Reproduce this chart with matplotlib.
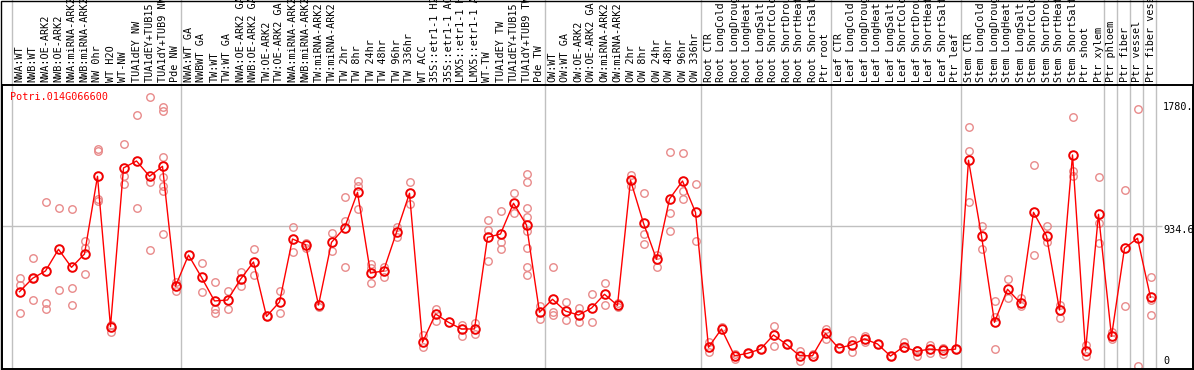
import matplotlib
matplotlib.use("Agg")
import matplotlib.pyplot as plt
import matplotlib.transforms as mtransforms
from matplotlib.patches import Rectangle

# sample labels, in plotting order
LABELS = [
    'NWA:WT', 'NWB:WT', 'NWA:OE-ARK2', 'NWB:OE-ARK2', 'NWA:miRNA-ARK2', 'NWB:miRNA-ARK2',
    'NW 0hr', 'WT H2O', 'WT-NW', 'TUA1dEY NW', 'TUA1dEY+TUB15', 'TUA1dY+TUB9 NW', 'Pde NW',
    'NWA:WT GA', 'NWBWT GA', 'TW:WT', 'TW:WT GA', 'NWA:OE-ARK2 GA', 'NWB:OE-ARK2 GA',
    'TW:OE-ARK2', 'TW:OE-ARK2 GA', 'NWA:miRNA-ARK2', 'NWB:miRNA-ARK2', 'TW:miRNA-ARK2',
    'TW:miRNA-ARK2', 'TW 2hr', 'TW 8hr', 'TW 24hr', 'TW 48hr', 'TW 96hr', 'TW 336hr',
    'WT ACC', '35S::etr1-1 H2O', '35S::etr1-1 ACC', 'LMX5::etr1-1 H2O', 'LMX5::etr1-1 ACC',
    'WT-TW', 'TUA1dEY TW', 'TUA1dEY+TUB15', 'TUA1dY+TUB9 TW', 'Pde TW',
    'OW:WT', 'OW:WT GA', 'OW:OE-ARK2', 'OW:OE-ARK2 GA', 'OW:miRNA-ARK2', 'OW:miRNA-ARK2',
    'OW 2hr', 'OW 8hr', 'OW 24hr', 'OW 48hr', 'OW 96hr', 'OW 336hr',
    'Root CTR', 'Root LongCold', 'Root LongDrought', 'Root LongHeat', 'Root LongSalt',
    'Root ShortCold', 'Root ShortDrought', 'Root ShortHeat', 'Root ShortSalt', 'Ptr root',
    'Leaf CTR', 'Leaf LongCold', 'Leaf LongDrought', 'Leaf LongHeat', 'Leaf LongSalt',
    'Leaf ShortCold', 'Leaf ShortDrought', 'Leaf ShortHeat', 'Leaf ShortSalt', 'Ptr leaf',
    'Stem CTR', 'Stem LongCold', 'Stem LongDrought', 'Stem LongHeat', 'Stem LongSalt',
    'Stem ShortCold', 'Stem ShortDrought', 'Stem ShortHeat', 'Stem ShortSalt', 'Ptr shoot',
    'Ptr xylem', 'Ptr phloem', 'Ptr fiber', 'Ptr vessel', 'Ptr fiber vessel',
]

# mean expression per sample
MEANS = [
    504, 592, 641, 784, 665, 753, 1266, 273, 1321, 1367, 1266, 1332, 540,
    746, 599, 443, 449, 586, 700, 341, 436, 852, 815, 416, 830, 925, 1160, 627,
    641, 896, 1154, 170, 357, 302, 258, 258, 863, 885, 1088, 944, 368,
    454, 376, 350, 396, 487, 414, 1240, 956, 718, 1116, 1235, 1028,
    137, 258, 81, 97, 125, 218, 156, 81, 81, 229,
    132, 152, 192, 159, 79, 141, 110, 125, 117, 125,
    1372, 872, 302, 520, 429, 1028, 872, 383, 1407, 112, 1015,
    209, 791, 857, 467,
]

# replicate values per sample
REPS = [
    [592, 548, 363], [725, 449, 592], [1094, 427, 390], [1055, 515], [1050, 526, 414],
    [841, 791, 619], [1446, 1435, 1116, 1100], [283, 240], [1479, 1266, 1215], [1671, 1057],
    [1788, 1231, 777], [1722, 1697, 1391, 1259, 1204, 1167, 885], [570, 507],
    [], [694, 502], [568, 390, 363], [509, 390], [634, 540], [784, 614], [341],
    [509, 363], [931, 764], [825, 791], [406], [892, 775], [1127, 971, 665],
    [1237, 1204, 1050], [687, 660, 559], [665, 599], [931, 867], [1226, 1081],
    [220, 137], [390, 313], [], [284, 213], [295, 225], [977, 911, 705],
    [1037, 830, 784], [1156, 1022], [1281, 1226, 1057, 997, 903, 793, 667, 614], [412, 324],
    [665, 368, 350], [438, 317], [394, 302], [487, 302], [559, 414], [430, 400],
    [1275, 1204], [1154, 883, 819], [748, 665], [1425, 1022, 903], [1418, 1167, 1114],
    [1213, 837],
    [170, 108], [270], [90, 59], [100], [125], [275, 145], [156], [112, 48], [90], [258, 192],
    [132], [187, 108], [213, 170], [159], [79], [170, 130], [120, 81], [152, 99], [130, 90], [125],
    [1590, 1431, 1094], [936, 786], [443, 335, 125], [586, 460], [460, 410], [1339, 746],
    [936, 834], [414, 328], [1658, 1299, 1266], [152, 77], [1259, 956, 826],
    [236, 192], [1176, 408], [1709, 11], [599, 451, 348],
]

# last sample index of each group (separator drawn after it)
GROUP_ENDS = [-1, 12, 40, 52, 62, 72, 83, 84, 85, 86, 87]

GENE = 'Potri.014G066600'
MAX_VAL = 1780.
MID_VAL = 934.6

W, H = 1194, 370
fig = plt.figure(figsize=(W / 100, H / 100), dpi=100)
ax_l, ax_r, ax_t, ax_b = 1.5, 1192.5, 84.5, 368.5
ax = fig.add_axes([ax_l / W, 1 - ax_b / H, (ax_r - ax_l) / W, (ax_b - ax_t) / H])

mono = 'DejaVu Sans Mono'
x = list(range(len(LABELS)))

# replicates
for i, vals in enumerate(REPS):
    if vals:
        ax.plot([i] * len(vals), vals, 'o', mfc='none', mec='#e88a8a', ms=5.4, mew=1.0, zorder=2)

# mean line + markers
ax.plot(x, MEANS, '-', color='#ff0000', lw=1.0, zorder=3)
ax.plot(x, MEANS, 'o', mfc='none', mec='#f00000', ms=6.2, mew=1.4, zorder=4)

ax.set_xlim((ax_l - 19.5) / 13, (ax_r - 19.5) / 13)
ax.set_ylim(-3, 1872)
ax.set_xticks([])
ax.set_yticks([])
for s in ax.spines.values():
    s.set_color('black')
    s.set_linewidth(1.4)

# group separators, running up through the label strip
ytop = (ax_b - 0) / (ax_b - ax_t)
for g in GROUP_ENDS:
    ax.axvline(g + 0.4, ymin=0, ymax=ytop, color='#c0c0c0', lw=1.0, clip_on=False, zorder=1)

# mid grid line
x_lab = (1163 - 19.5) / 13
ax.hlines(MID_VAL, ax.get_xlim()[0], x_lab - 0.1, color='#c0c0c0', lw=1.0, zorder=1)

# sample labels above the plot
lab_tr = mtransforms.blended_transform_factory(ax.transData, ax.transAxes)
for i, lab in enumerate(LABELS):
    ax.text(i, 1.0 + 2.0 / (ax_b - ax_t), lab, transform=lab_tr, rotation=90,
            ha='center', va='bottom', fontsize=7.3, family=mono, clip_on=False)

# value labels on the right
down = mtransforms.offset_copy(ax.transData, fig=fig, x=0, y=-4, units='dots')
ax.text(x_lab, MAX_VAL, '%g.' % MAX_VAL, transform=down, ha='left', va='top',
        fontsize=7.3, family=mono)
ax.text(x_lab, MID_VAL, '%g' % MID_VAL, transform=mtransforms.offset_copy(ax.transData, fig=fig, x=0, y=1, units='dots'),
        ha='left', va='top', fontsize=7.3, family=mono)
ax.text(x_lab, 0, '0', transform=mtransforms.offset_copy(ax.transData, fig=fig, x=0, y=2, units='dots'),
        ha='left', va='bottom', fontsize=7.3, family=mono)

# gene name
ax.text((10 - ax_l) / (ax_r - ax_l), (ax_b - 97) / (ax_b - ax_t), GENE, transform=ax.transAxes,
        ha='left', va='center', fontsize=7.3, family=mono, color='#ff0000')

# outer frame
fig.patches.append(Rectangle((0.5 / W, 0.5 / H), (W - 1.5) / W, (H - 1.5) / H, transform=fig.transFigure,
                             fill=False, edgecolor='black', lw=1.0))

fig.savefig('out.png', dpi=100)
